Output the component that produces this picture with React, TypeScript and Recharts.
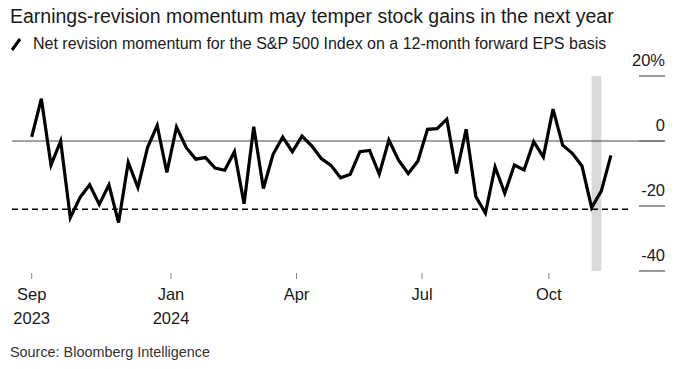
import { LineChart, Line, XAxis, YAxis, ReferenceLine, ReferenceArea } from "recharts";

// weekly readings, first point ~ late Sep 2023, last ~ mid Nov 2024
const momentum = [
  1.3, 13, -7.4, 0, -23.6, -17.4, -13.5, -19.5, -13.5, -25.1,
  -6.6, -14.3, -2, 4.8, -9.7, 4.3, -2, -5.6, -5.1, -8.3,
  -9, -3.3, -19.3, 4.4, -14.6, -4.1, 1.2, -3.3, 1.5, -1.5,
  -5.4, -7.5, -11.3, -10.2, -3.3, -2.9, -10.2, 0.3, -5.9, -10,
  -6.2, 3.6, 3.8, 6.7, -10, 3.6, -17.1, -22.2, -8, -16.1,
  -7.4, -8.9, -0.2, -4.9, 9.8, -1.3, -3.8, -7.7, -20.5, -15.4,
  -4.4,
];

// tick positions in weeks from the first reading
const xTicks = [0, 14.43, 27.43, 40.43, 53.57];
const xTickLabels = [["Sep", "2023"], ["Jan", "2024"], ["Apr"], ["Jul"], ["Oct"]];
const yTicks = [20, 0, -20, -40];
const yTickLabels = ["20%", "0", "-20", "-40"];
const floorLevel = -21;
const highlightWeeks = [58, 59];

const data = momentum.map((v, i) => ({ week: i, value: v }));

const font = '"Liberation Sans", Arial, sans-serif';

const XTick = (props: any) => {
  const { x, y, payload } = props;
  const idx = xTicks.indexOf(payload.value);
  const lines = xTickLabels[idx] || [];
  return (
    <g>
      <line x1={x} x2={x} y1={y + 2} y2={y + 8} stroke="#888" strokeWidth={1} />
      {lines.map((t, i) => (
        <text key={i} x={x} y={y + 29 + i * 24} textAnchor="middle" fontSize={16.5} fill="#1a1a1a" fontFamily={font}>
          {t}
        </text>
      ))}
    </g>
  );
};

const YTick = (props: any) => {
  const { x, y, payload } = props;
  const idx = yTicks.indexOf(payload.value);
  return (
    <g>
      <line x1={x - 26} x2={x} y1={y} y2={y} stroke="#777" strokeWidth={1.5} />
      <text x={x} y={y - 10} textAnchor="end" fontSize={16.5} fill="#1a1a1a" fontFamily={font}>
        {yTickLabels[idx]}
      </text>
    </g>
  );
};

export default function App() {
  return (
    <div style={{ position: "relative", width: 689, height: 369, background: "#fff", fontFamily: font }}>
      <style>{`body{margin:0}`}</style>
      <LineChart
        width={689}
        height={369}
        data={data}
        margin={{ top: 76, right: 23, bottom: 38, left: 12 }}
        style={{ position: "absolute", left: 0, top: 0 }}
      >
        <ReferenceArea
          x1={highlightWeeks[0]}
          x2={highlightWeeks[1]}
          y1={-40}
          y2={20}
          fill="#d9d9d9"
          fillOpacity={1}
          stroke="none"
        />
        <XAxis
          dataKey="week"
          type="number"
          domain={[-2.04, 65.6]}
          ticks={xTicks}
          interval={0}
          allowDataOverflow
          axisLine={false}
          tickLine={false}
          tickSize={0}
          tickMargin={0}
          height={60}
          tick={XTick}
        />
        <YAxis
          orientation="right"
          domain={[-40, 20]}
          ticks={yTicks}
          interval={0}
          width={1}
          axisLine={false}
          tickLine={false}
          tickSize={0}
          tickMargin={0}
          tick={YTick}
        />
        <ReferenceLine y={0} stroke="#444" strokeWidth={1} />
        <ReferenceLine
          segment={[
            { x: -2.04, y: floorLevel },
            { x: 62.1, y: floorLevel },
          ]}
          stroke="#000"
          strokeWidth={1.5}
          strokeDasharray="6 4"
        />
        <Line
          type="linear"
          dataKey="value"
          stroke="#000"
          strokeWidth={3.2}
          dot={false}
          isAnimationActive={false}
        />
      </LineChart>
      <div style={{ position: "absolute", left: 10, top: 5, fontSize: 19.5, lineHeight: "22px", color: "#1a1a1a", whiteSpace: "nowrap" }}>
        Earnings-revision momentum may temper stock gains in the next year
      </div>
      <svg width={14} height={16} style={{ position: "absolute", left: 10, top: 36 }}>
        <line x1={2} y1={14} x2={10} y2={3} stroke="#000" strokeWidth={3} />
      </svg>
      <div style={{ position: "absolute", left: 33, top: 34, fontSize: 16, lineHeight: "19px", color: "#1a1a1a", whiteSpace: "nowrap" }}>
        Net revision momentum for the S&amp;P 500 Index on a 12-month forward EPS basis
      </div>
      <div style={{ position: "absolute", left: 10, top: 344, fontSize: 14.4, lineHeight: "17px", color: "#333", whiteSpace: "nowrap" }}>
        Source: Bloomberg Intelligence
      </div>
    </div>
  );
}
